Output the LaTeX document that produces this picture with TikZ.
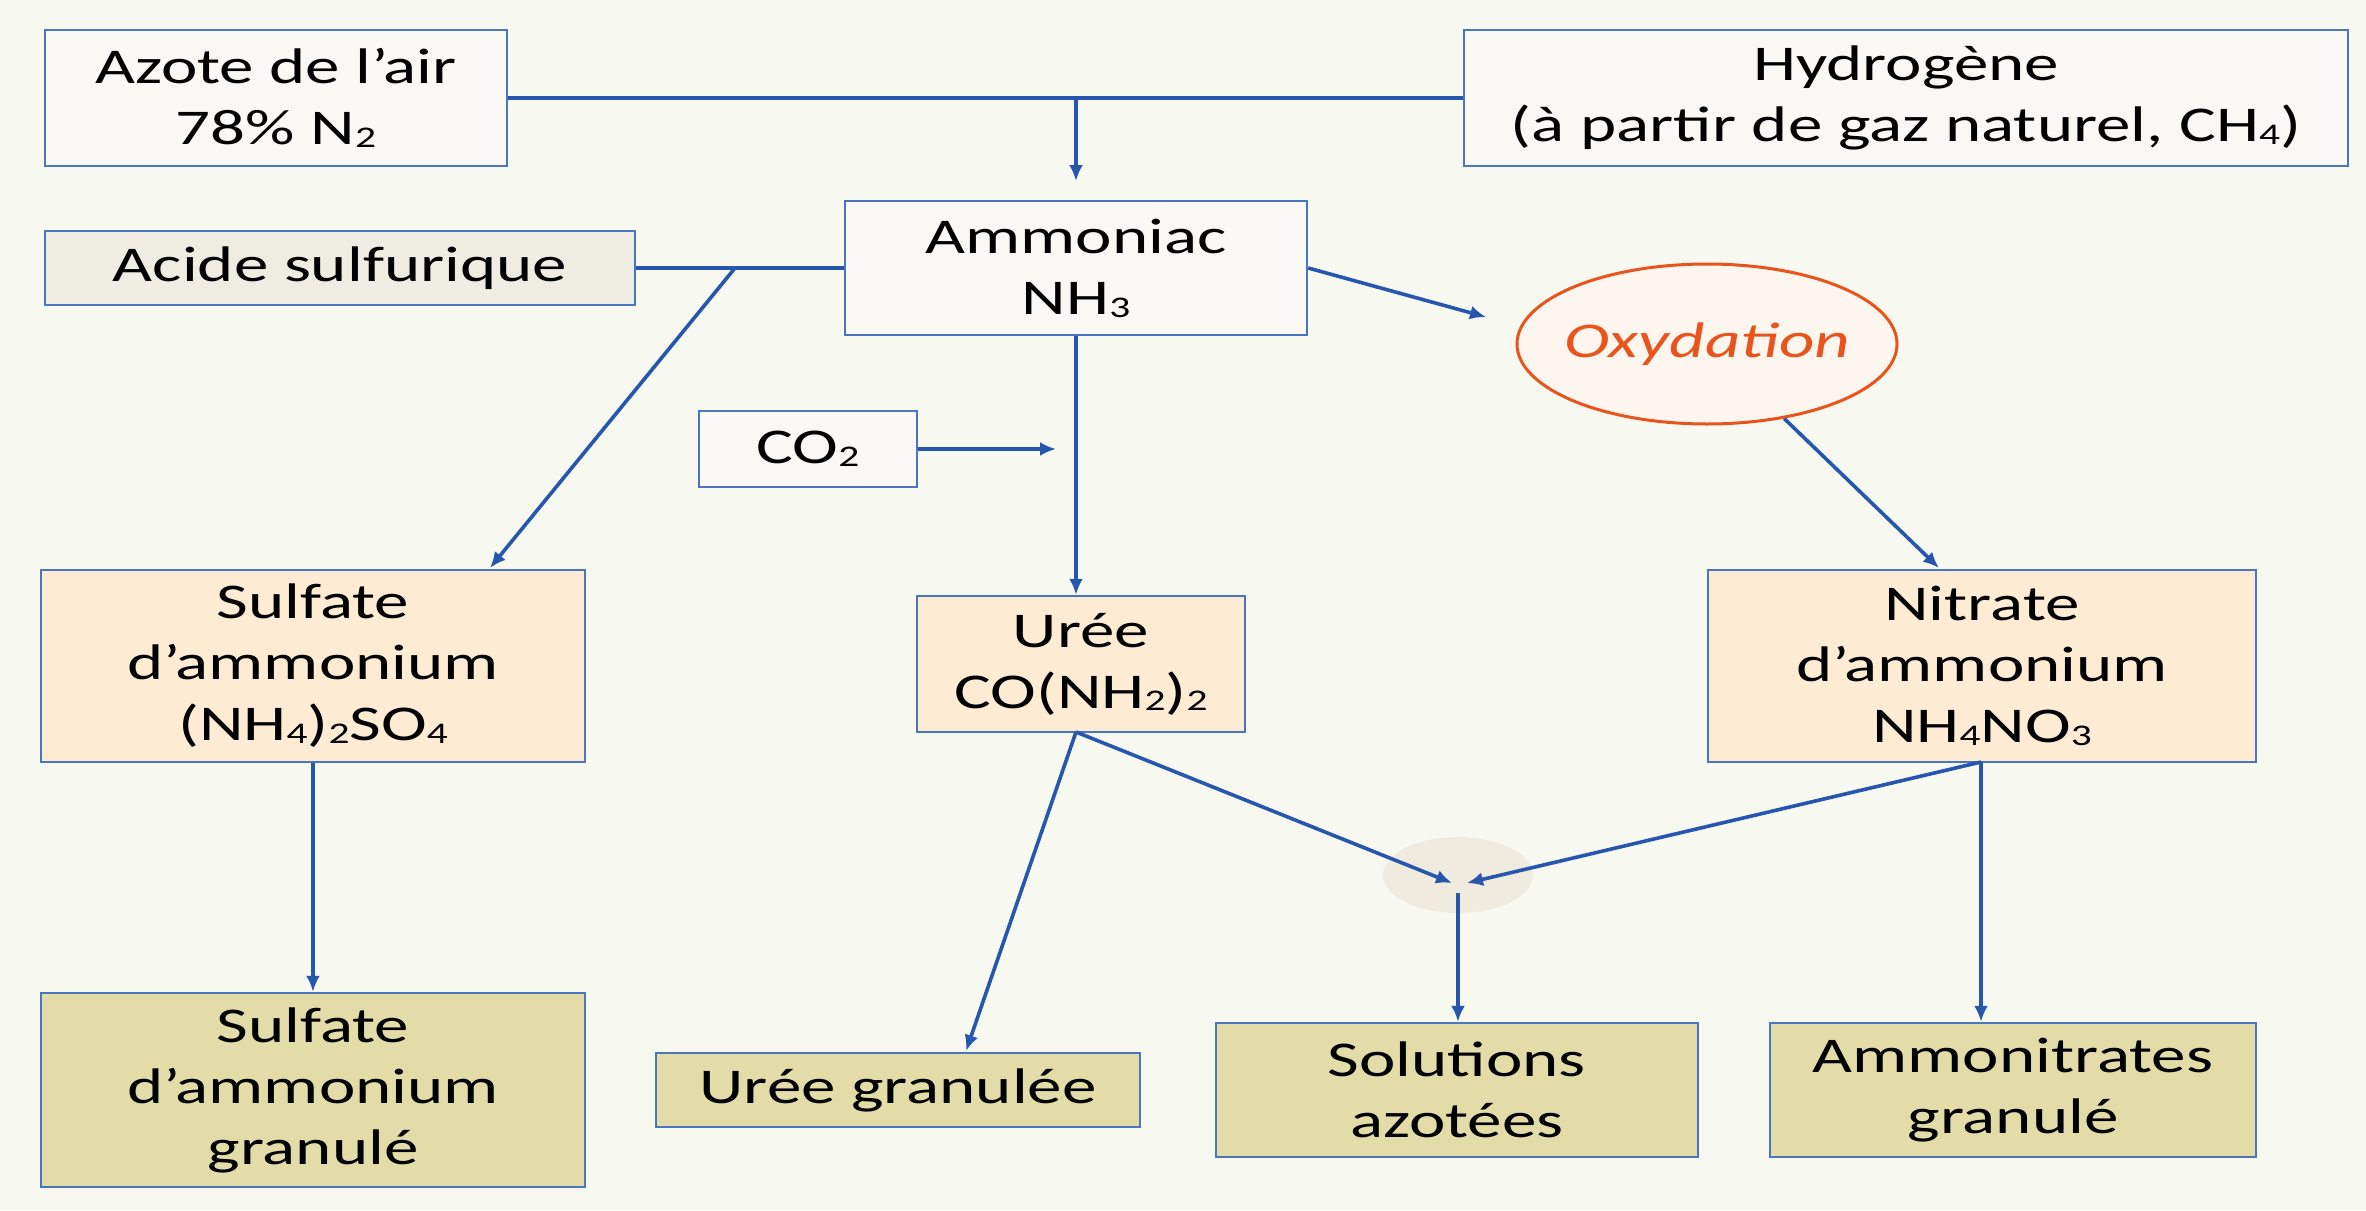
\documentclass[tikz,border=0pt]{standalone}
\usepackage{fontspec}
\setmainfont{Carlito}[FakeStretch=1.38]
\usetikzlibrary{arrows.meta,shapes.geometric,calc}
\definecolor{bgc}{HTML}{F7F9F1}
\definecolor{bordc}{HTML}{4A76C0}
\definecolor{arrc}{HTML}{2756AE}
\definecolor{topfill}{HTML}{F9F8F4}
\definecolor{acidfill}{HTML}{EFEDE2}
\definecolor{midfill}{HTML}{FDEBD4}
\definecolor{botfill}{HTML}{E3DCA9}
\definecolor{oxc}{HTML}{E8541C}
\definecolor{oxfill}{HTML}{FDF6EF}
\definecolor{blobc}{HTML}{EFECDF}
\newcommand{\chsub}[1]{\raisebox{-0.12ex}{\fontsize{15pt}{15pt}\selectfont #1}}
\begin{document}
\begin{tikzpicture}[x=0.5pt,y=-0.5pt,
  box/.style={draw=bordc,line width=1.2pt,align=center,inner sep=2pt,
    font=\fontsize{25pt}{30.5pt}\selectfont,text=black},
  topbox/.style={box,fill=topfill},
  acidbox/.style={box,fill=acidfill},
  midbox/.style={box,fill=midfill},
  botbox/.style={box,fill=botfill},
  conn/.style={draw=arrc,line width=1.8pt},
  arr/.style={conn,-{Latex[length=8pt,width=7pt]}}]
\useasboundingbox (0,0) rectangle (2366,1210);
\fill[bgc] (0,0) rectangle (2366,1210);
% merge blob
\node[ellipse,fill=blobc,minimum width=75pt,minimum height=38pt,inner sep=0pt] (blob) at (1458,875) {};
% nodes
\node[topbox,minimum width=231pt,minimum height=68pt] (azote) at (276,98) {Azote de l’air\\78\% N\chsub{2}};
\node[topbox,minimum width=442pt,minimum height=68pt] (hydro) at (1906,98) {Hydrogène\\(à partir de gaz naturel, CH\chsub{4})};
\node[topbox,minimum width=231pt,minimum height=67pt] (ammo) at (1076,268) {Ammoniac\\NH\chsub{3}};
\node[acidbox,minimum width=295pt,minimum height=37pt] (acide) at (340,268) {Acide sulfurique};
\node[topbox,minimum width=109pt,minimum height=38pt] (co2) at (808,449) {CO\chsub{2}};
\node[ellipse,draw=oxc,line width=1.5pt,fill=oxfill,minimum width=190pt,minimum height=80pt,inner sep=0pt] (ox) at (1707,344) {};
\node[font=\fontsize{25pt}{30pt}\selectfont\itshape,text=oxc,inner sep=0pt] (oxt) at (ox.center) {Oxydation};
\node[midbox,minimum width=272pt,minimum height=96pt] (sulf) at (313,666) {Sulfate\\d’ammonium\\(NH\chsub{4})\chsub{2}SO\chsub{4}};
\node[midbox,minimum width=164pt,minimum height=68pt] (uree) at (1081,664) {Urée\\CO(NH\chsub{2})\chsub{2}};
\node[midbox,minimum width=274pt,minimum height=96pt] (nit) at (1982,666) {Nitrate\\d’ammonium\\NH\chsub{4}NO\chsub{3}};
\node[botbox,minimum width=272pt,minimum height=97pt] (sulfg) at (313,1090) {Sulfate\\d’ammonium\\granulé};
\node[botbox,minimum width=242pt,minimum height=37pt] (ureeg) at (898,1090) {Urée granulée};
\node[botbox,minimum width=241pt,minimum height=67pt] (sol) at (1457,1090) {Solutions\\azotées};
\node[botbox,minimum width=243pt,minimum height=67pt] (ammonit) at (2013,1090) {Ammonitrates\\granulé};
% coordinates
\coordinate (j1) at (1076,98);
\coordinate (j1tip) at (1076,181);
\coordinate (j2) at (735,268);
\coordinate (sulftip) at (490,568);
\coordinate (co2tip) at (1056,449);
\coordinate (oxtip) at (1486,317);
\coordinate (nittip) at (1939,568);
\coordinate (ureeout) at (1076,732);
\coordinate (ugtip) at (966,1051);
\coordinate (m1) at (1452,883);
\coordinate (m2) at (1467,883);
\coordinate (mdown) at (1458,893);
\coordinate (nitout) at (1981,762);
% connectors
\draw[conn] (azote.east) -- (hydro.west);
\draw[arr] (j1) -- (j1tip);
\draw[conn] (acide.east) -- (ammo.west);
\draw[arr] (j2) -- (sulftip);
\draw[arr] (co2.east) -- (co2tip);
\draw[arr] (ammo.south) -- (ammo.south |- uree.north);
\draw[arr] (ammo.east) -- (oxtip);
\draw[arr] (ox) -- (nittip);
\draw[arr] (sulf.south) -- (sulfg.north);
\draw[arr] (ureeout) -- (ugtip);
\draw[arr] (ureeout) -- (m1);
\draw[arr] (nitout) -- (m2);
\draw[arr] (mdown) -- (mdown |- sol.north);
\draw[arr] (nitout) -- (nitout |- ammonit.north);
\end{tikzpicture}
\end{document}
